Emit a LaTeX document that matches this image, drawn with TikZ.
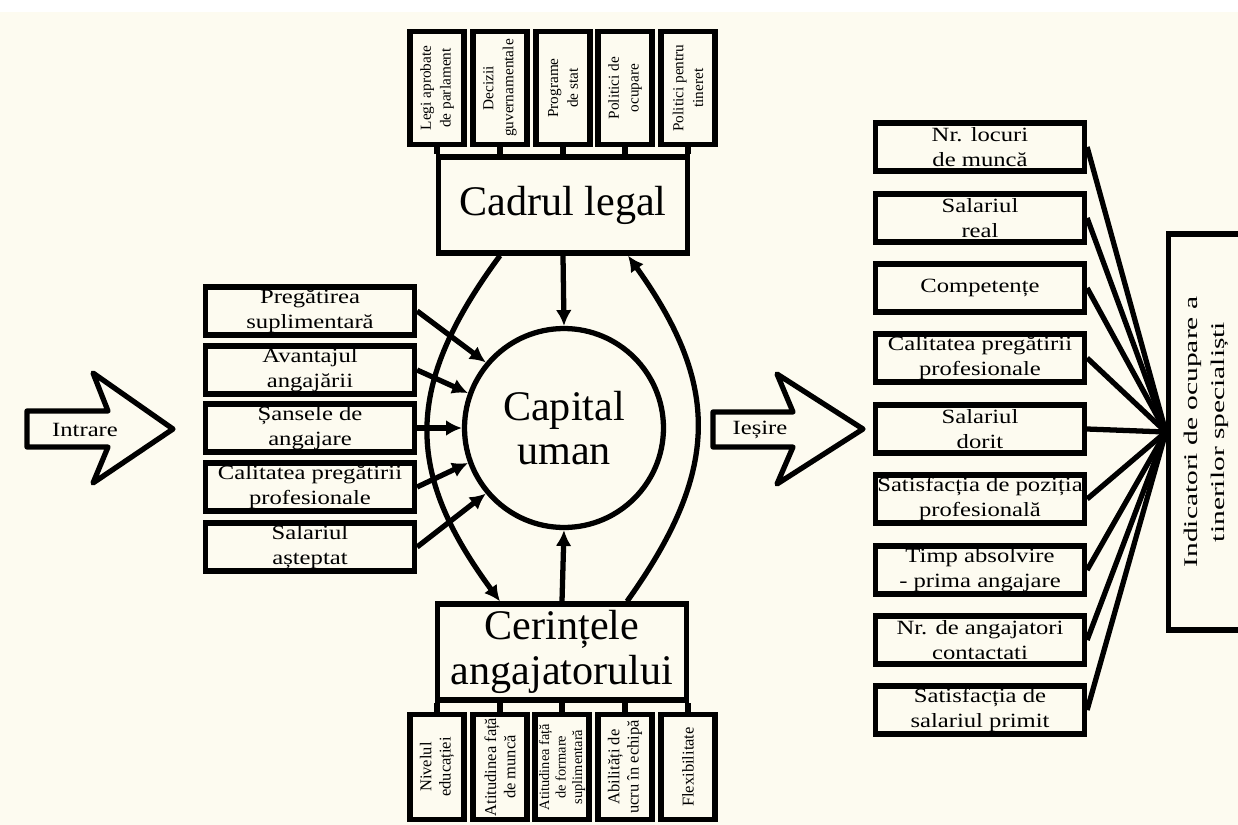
\documentclass[tikz,border=0pt]{standalone}
\usepackage{fontspec}
\setmainfont{Liberation Serif}[FakeStretch=1.22]
\newfontfamily\bigfont{Liberation Serif}
\usepackage{graphicx}
\usepackage{tikz}
\usetikzlibrary{arrows.meta,calc}
\definecolor{paper}{RGB}{253,251,240}
\tikzset{
    every node/.style={align=center,font=\fontsize{11.5}{14.5}\selectfont,},
    box/.style={draw,rectangle,line width=3pt,fill=paper,inner sep=0pt,},
    sidebox/.style={box,minimum width=4.18cm,minimum height=0.96cm,},
    vbox/.style={box,rotate=90,minimum width=2.26cm,minimum height=1.08cm,font=\bigfont\fontsize{8.7}{11.3}\selectfont,},
    lowbox/.style={vbox,minimum width=2.1cm,font=\bigfont\fontsize{9.4}{11}\selectfont,},
    bigbox/.style={box,minimum width=4.98cm,minimum height=1.92cm,font=\bigfont\fontsize{24}{26}\selectfont,},
    link/.style={line width=3pt,},
    flow/.style={line width=3pt,-{Latex[length=9pt,width=9pt]},},
}

\begin{document}
\begin{tikzpicture}[x=0.02cm,y=-0.02cm]
                \useasboundingbox (0,0) rectangle (1238,825);
                \fill[white] (0,0) rectangle (1238,825);
                \fill[paper] (0,12) rectangle (1238,825);

                \node[bigbox] (cadru) at (563,205) {Cadrul legal};
                \node[bigbox] (cerinte) at (562,652) {Cerințele\\angajatorului};
                \node[draw,circle,line width=3pt,fill=paper,inner sep=0pt,minimum size=3.98cm,font=\bigfont\fontsize{24}{25.5}\selectfont] (capital) at (564,428) {Capital\\uman};

                \node[vbox] (lege1) at (437,88) {Legi aprobate\\de parlament};
                \node[vbox] (lege2) at (500,88) {Decizii\\guvernamentale};
                \node[vbox] (lege3) at (563,88) {Programe\\de stat};
                \node[vbox] (lege4) at (625,88) {Politici de\\ocupare};
                \node[vbox] (lege5) at (688,88) {Politici pentru\\tineret};

                \node[lowbox] (cer1) at (437,767) {Nivelul\\educației};
                \node[lowbox] (cer2) at (500,767) {Atitudinea față\\de muncă};
                \node[lowbox,font=\bigfont\fontsize{8.2}{9.4}\selectfont] (cer3) at (562,767) {Atitudinea față\\de formare\\suplimentară};
                \node[lowbox] (cer4) at (625,767) {Abilități de\\ucru în echipă};
                \node[lowbox] (cer5) at (688,767) {Flexibilitate};

                \node[sidebox] (prep1) at (310,311) {Pregătirea\\suplimentară};
                \node[sidebox] (prep2) at (310,370) {Avantajul\\angajării};
                \node[sidebox] (prep3) at (310,428) {Șansele de\\angajare};
                \node[sidebox] (prep4) at (310,487) {Calitatea pregătirii\\profesionale};
                \node[sidebox] (prep5) at (310,547) {Salariul\\așteptat};

                \node[sidebox] (ind1) at (980,147) {Nr. locuri\\de muncă};
                \node[sidebox] (ind2) at (980,218) {Salariul\\real};
                \node[sidebox] (ind3) at (980,288) {Competențe};
                \node[sidebox] (ind4) at (980,358) {Calitatea pregătirii\\profesionale};
                \node[sidebox] (ind5) at (980,429) {Salariul\\dorit};
                \node[sidebox] (ind6) at (980,499) {Satisfacția de poziția\\profesională};
                \node[sidebox] (ind7) at (980,570) {Timp absolvire\\- prima angajare};
                \node[sidebox] (ind8) at (980,640) {Nr. de angajatori\\contactati};
                \node[sidebox] (ind9) at (980,710) {Satisfacția de\\salariul primit};

                \node[box,rotate=90,minimum width=7.92cm,minimum height=1.5cm,font=\fontsize{11}{15.3}\selectfont] (ind) at (1206,432) {\scalebox{1.25}[1]{Indicatori de ocupare a}\\\scalebox{1.25}[1]{tinerilor specialiști}};

                \draw[line width=3pt,line join=round,fill=paper] (27,411) -- (108,411) -- (93,373) -- (173,429) -- (93,483) -- (108,447) -- (27,447) -- cycle;
                \node (intrare) at (85,430) {Intrare};
                \draw[line width=3pt,line join=round,fill=paper] (713,412) -- (793,412) -- (777,374) -- (863,429) -- (777,484) -- (793,447) -- (713,447) -- cycle;
                \node (iesire) at (760,430) {Ieșire};

                \draw[link] (lege1.west) -- (lege1.west |- cadru.north);
                \draw[link] (lege2.west) -- (lege2.west |- cadru.north);
                \draw[link] (lege3.west) -- (lege3.west |- cadru.north);
                \draw[link] (lege4.west) -- (lege4.west |- cadru.north);
                \draw[link] (lege5.west) -- (lege5.west |- cadru.north);

                \draw[link] (cer1.east) -- (cer1.east |- cerinte.south);
                \draw[link] (cer2.east) -- (cer2.east |- cerinte.south);
                \draw[link] (cer3.east) -- (cer3.east |- cerinte.south);
                \draw[link] (cer4.east) -- (cer4.east |- cerinte.south);
                \draw[link] (cer5.east) -- (cer5.east |- cerinte.south);

                \draw[flow] (cadru.south) to (capital.north);
                \draw[flow] (cerinte.north) to (capital.south);
                \draw[flow] ($(cadru.south)+(-63,0)$) .. controls +(-96,130) and +(-96,-130) .. ($(cerinte.north)+(-62,0)$);
                \draw[flow] ($(cerinte.north)+(65,0)$) .. controls +(93,-130) and +(93,130) .. ($(cadru.south)+(65,0)$);

                \draw[flow] (prep1.east) to (capital.140);
                \draw[flow] (prep2.east) to (capital.160);
                \draw[flow] (prep3.east) to (capital.180);
                \draw[flow] (prep4.east) to (capital.200);
                \draw[flow] (prep5.east) to (capital.220);

                \draw[link] (ind1.east) -- (ind.north);
                \draw[link] (ind2.east) -- (ind.north);
                \draw[link] (ind3.east) -- (ind.north);
                \draw[link] (ind4.east) -- (ind.north);
                \draw[link] (ind5.east) -- (ind.north);
                \draw[link] (ind6.east) -- (ind.north);
                \draw[link] (ind7.east) -- (ind.north);
                \draw[link] (ind8.east) -- (ind.north);
                \draw[link] (ind9.east) -- (ind.north);
            \end{tikzpicture}
\end{document}
